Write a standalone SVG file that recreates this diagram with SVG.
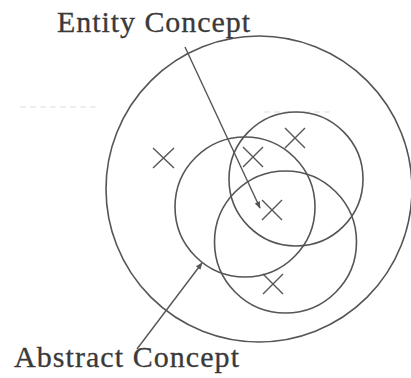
<svg xmlns="http://www.w3.org/2000/svg" width="411" height="378" viewBox="0 0 411 378">
<style>
.c{fill:none;stroke:#555;stroke-width:1.6}
.x{stroke:#555;stroke-width:1.4}
.l{fill:none;stroke:#555;stroke-width:1.4}
.t{font-family:"Liberation Serif","Times New Roman",serif;font-size:30px;fill:#3a3a3a;stroke:#3a3a3a;stroke-width:0.3}
.f{stroke:#ddd;stroke-width:1;stroke-dasharray:6 4}
</style>
<defs>
<marker id="ah" viewBox="0 0 10 10" refX="9" refY="5" markerWidth="8" markerHeight="7" markerUnits="userSpaceOnUse" orient="auto"><path d="M0,1 L10,5 L0,9 z" fill="#555"/></marker>
</defs>
<rect width="411" height="378" fill="#fff"/>
<g id="artifacts">
<line class="f" x1="20" y1="107" x2="98" y2="107"/>
<line class="f" x1="264" y1="112" x2="330" y2="112"/>
</g>
<g id="outer"><circle class="c" cx="259" cy="189" r="153"/></g>
<g id="abstract-circle"><circle class="c" cx="245" cy="207" r="70"/></g>
<g id="upper-circle"><circle class="c" cx="296" cy="179" r="67"/></g>
<g id="lower-circle"><circle class="c" cx="285.5" cy="242" r="71"/></g>
<g id="crosses">
<path class="x" d="M153,148 L174,168 M174,148 L153,168"/>
<path class="x" d="M243,147 L263,167 M263,147 L243,167"/>
<path class="x" d="M285,128 L305,148 M305,128 L285,148"/>
<path class="x" d="M262,200 L282,220 M282,200 L262,220"/>
<path class="x" d="M263,274 L283,294 M283,274 L263,294"/>
</g>
<g id="connectors">
<line class="l" x1="185" y1="47" x2="260" y2="208" marker-end="url(#ah)"/>
<line class="l" x1="137" y1="349" x2="202" y2="263" marker-end="url(#ah)"/>
</g>
<g id="labels">
<text class="t" x="57" y="32" textLength="193" lengthAdjust="spacing">Entity Concept</text>
<text class="t" x="14" y="367" textLength="225" lengthAdjust="spacing">Abstract Concept</text>
</g>
</svg>
